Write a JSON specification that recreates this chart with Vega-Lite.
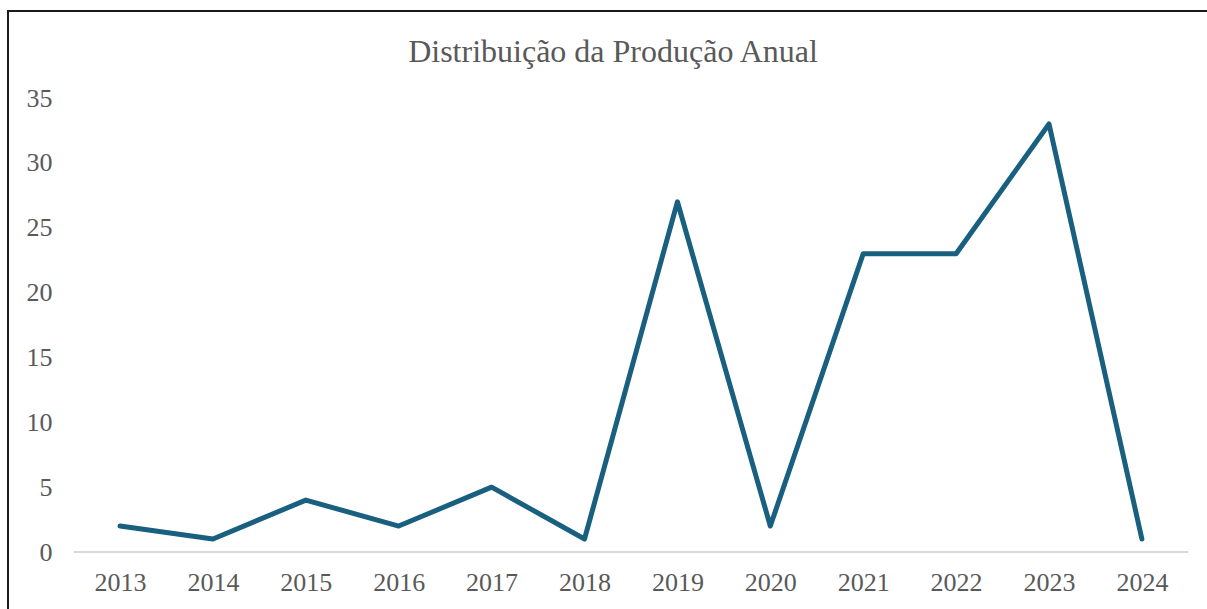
{
  "$schema": "https://vega.github.io/schema/vega-lite/v6.json",
  "width": 1202,
  "height": 604,
  "autosize": {"type": "none"},
  "padding": {"left": 8, "top": 11, "right": 0, "bottom": 0},
  "background": "white",
  "config": {
    "view": {"stroke": "#1a1a1a", "strokeWidth": 2},
    "font": "Liberation Serif"
  },
  "title": {
    "text": "Distribuição da Produção Anual",
    "font": "Liberation Serif",
    "fontSize": 32,
    "fontWeight": "normal",
    "color": "#595959",
    "anchor": "middle",
    "frame": "group",
    "offset": -51,
    "baseline": "alphabetic",
    "dx": 4,
    "dy": 32
  },
  "layer": [
    {
      "data": {"values": [{"start": 2012.5, "end": 2024.5, "base": 0}]},
      "mark": {"type": "rule", "color": "#d9d9d9", "strokeWidth": 2},
      "encoding": {
        "x": {"field": "start", "type": "quantitative"},
        "x2": {"field": "end"},
        "y": {"field": "base", "type": "quantitative"}
      }
    },
    {
      "data": {
        "values": [
          {"ano": 2013, "producao": 2},
          {"ano": 2014, "producao": 1},
          {"ano": 2015, "producao": 4},
          {"ano": 2016, "producao": 2},
          {"ano": 2017, "producao": 5},
          {"ano": 2018, "producao": 1},
          {"ano": 2019, "producao": 27},
          {"ano": 2020, "producao": 2},
          {"ano": 2021, "producao": 23},
          {"ano": 2022, "producao": 23},
          {"ano": 2023, "producao": 33},
          {"ano": 2024, "producao": 1}
        ]
      },
      "mark": {"type": "line", "color": "#185f80", "strokeWidth": 5, "strokeCap": "round", "strokeJoin": "round"},
      "encoding": {
        "x": {
          "field": "ano",
          "type": "quantitative",
          "scale": {"domain": [2011.794, 2024.733], "nice": false, "zero": false},
          "axis": {
            "title": null,
            "values": [2013, 2014, 2015, 2016, 2017, 2018, 2019, 2020, 2021, 2022, 2023, 2024],
            "format": "d",
            "grid": false,
            "domain": false,
            "ticks": false,
            "tickSize": 0,
            "offset": -33,
            "labelPadding": 0,
            "labelBaseline": "middle",
            "labelFont": "Liberation Serif",
            "labelFontSize": 26,
            "labelColor": "#595959",
            "labelFlush": false,
            "labelOverlap": false
          }
        },
        "y": {
          "field": "producao",
          "type": "quantitative",
          "scale": {"domain": [-4.857, 41.71], "nice": false, "zero": false},
          "axis": {
            "title": null,
            "values": [0, 5, 10, 15, 20, 25, 30, 35],
            "grid": false,
            "domain": false,
            "ticks": false,
            "tickSize": 0,
            "offset": -44,
            "labelPadding": 0,
            "labelAlign": "right",
            "labelBaseline": "middle",
            "labelFont": "Liberation Serif",
            "labelFontSize": 26,
            "labelColor": "#595959",
            "labelFlush": false,
            "labelOverlap": false
          }
        }
      }
    }
  ]
}
